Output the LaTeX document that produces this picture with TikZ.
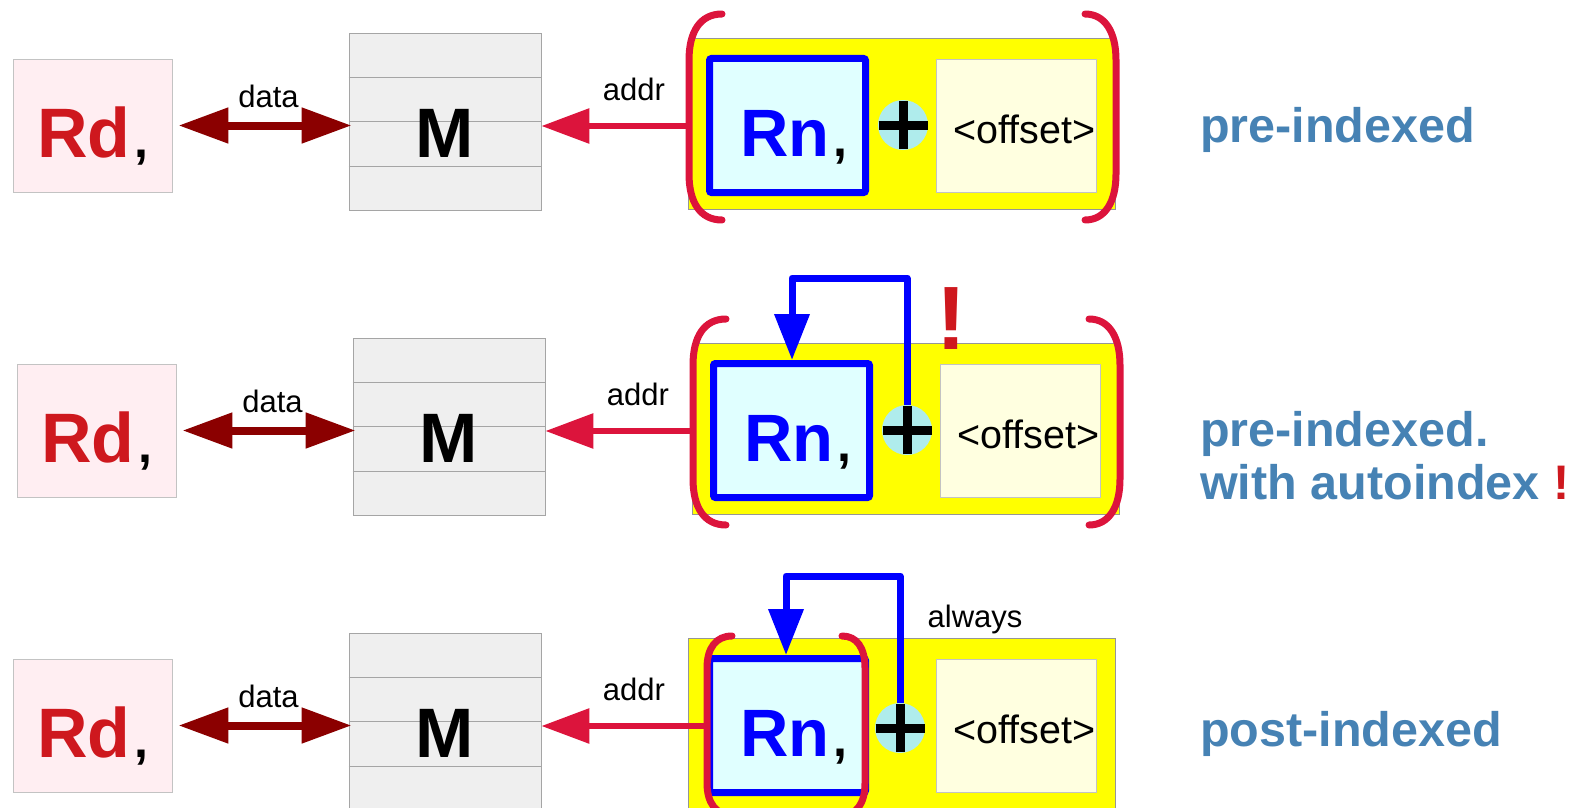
\documentclass[tikz,border=0pt]{standalone}
\usepackage{fontspec}
\setmainfont{Liberation Sans}
\usetikzlibrary{arrows.meta,calc}
\definecolor{rdred}{RGB}{206,24,30}
\definecolor{rdfill}{RGB}{255,238,242}
\definecolor{boxgray}{RGB}{195,195,195}
\definecolor{mfill}{RGB}{239,239,239}
\definecolor{mline}{RGB}{165,165,165}
\definecolor{darr}{RGB}{139,0,0}
\definecolor{crim}{RGB}{220,20,60}
\definecolor{ybox}{RGB}{255,255,0}
\definecolor{yborder}{RGB}{150,150,150}
\definecolor{rnfill}{RGB}{224,255,255}
\definecolor{rnblue}{RGB}{0,0,255}
\definecolor{plusfill}{RGB}{175,236,236}
\definecolor{offill}{RGB}{255,255,224}
\definecolor{lblblue}{RGB}{70,130,180}
\newcommand\smallcomma{\kern4pt{\fontsize{50}{52}\selectfont\textcolor{black}{,}}}
\newcommand\commonrow[3]{%
  \node[rdbox] (rd#1) at (92.5,125.5) {};
  \node[bigtxt, text=rdred] (rdt#1) at (93,157) {Rd\smallcomma};
  \node[mbox] (m#1) at (445,121.5) {};
  \foreach \k in {1,2,3}
    \draw[mgrid] ($(m#1.north west)!\k/4!(m#1.south west)$) -- ($(m#1.north east)!\k/4!(m#1.south east)$);
  \node[bigtxt] (mt#1) at (445,157) {M};
  \draw[dataarr] ([xshift=6pt]rd#1.east) -- ([xshift=3pt]rd#1.east -| m#1.west)
    node[pos=0.52, anchor=base, yshift=18pt, smalltxt] (dl#1) {data};
  \node[yellowbox] (yb#1) at (901.5,123.5) {};
  \node[rnbox] (rn#1) at (787.5,125.5) {};
  \node[rntxt] (rnt#1) at (794,156) {Rn\smallcomma};
  \node[plusc] (pl#1) at (#3) {};
  \draw[plusbar] ([xshift=-24.5pt]pl#1.center) -- ([xshift=24.5pt]pl#1.center);
  \draw[plusbar] ([yshift=24pt]pl#1.center) -- ([yshift=-24pt]pl#1.center);
  \node[offbox] (of#1) at (1016,125.5) {};
  \node[offtxt] (oft#1) at (1024.5,143) {<offset>};
  \coordinate (bl#1) at (#2,126);
  \draw[addrarr] (bl#1) -- (bl#1 -| m#1.east);
  \node[smalltxt] (al#1) at (634,100) {addr};
}
\begin{document}
\begin{tikzpicture}[x=1pt,y=-1pt,
  rdbox/.style={draw=boxgray, fill=rdfill, line width=0.8pt, minimum width=159pt, minimum height=133pt, inner sep=0pt},
  mbox/.style={draw=mline, fill=mfill, line width=0.8pt, minimum width=192pt, minimum height=177pt, inner sep=0pt},
  mgrid/.style={draw=mline, line width=0.8pt},
  bigtxt/.style={anchor=base, inner sep=0pt, font=\fontsize{70}{80}\selectfont\bfseries},
  rntxt/.style={anchor=base, inner sep=0pt, text=rnblue, font=\fontsize{67}{78}\selectfont\bfseries},
  smalltxt/.style={anchor=base, inner sep=0pt, font=\fontsize{31}{36}\selectfont},
  offtxt/.style={anchor=base, inner sep=0pt, font=\fontsize{39.5}{44}\selectfont},
  dataarr/.style={draw=darr, line width=8pt, {Triangle[length=50pt,width=34pt]}-{Triangle[length=50pt,width=34pt]}},
  addrarr/.style={draw=crim, line width=6pt, -{Triangle[length=48pt,width=34pt]}},
  yellowbox/.style={draw=yborder, fill=ybox, line width=0.8pt, minimum width=427pt, minimum height=171pt, inner sep=0pt},
  rnbox/.style={draw=rnblue, fill=rnfill, line width=7pt, rounded corners=2pt, minimum width=156pt, minimum height=134pt, inner sep=0pt},
  plusc/.style={circle, fill=plusfill, minimum size=50pt, inner sep=0pt},
  plusbar/.style={draw=black, line width=9pt},
  offbox/.style={draw=boxgray, fill=offill, line width=0.8pt, minimum width=160pt, minimum height=133pt, inner sep=0pt},
  brack/.style={draw=crim, line width=7pt, line cap=round},
  looparr/.style={draw=rnblue, line width=7pt, line join=round, -{Triangle[length=46pt,width=34pt]}},
  lbl/.style={anchor=base west, inner sep=0pt, text=lblblue, font=\fontsize{48.5}{56}\selectfont\bfseries},
  excl/.style={anchor=base, inner sep=0pt, text=rdred, font=\fontsize{90}{100}\selectfont\bfseries}
]
\useasboundingbox (0,0) rectangle (1579,808);
\clip (0,0) rectangle (1579,808);
\fill[white] (0,0) rectangle (1579,808);

% row 1: pre-indexed
\begin{scope}
  \commonrow{1}{689}{903,125}
  \draw[brack] (722,14) .. controls (700,14) and (689,32) .. (689,60) -- (689,174) .. controls (689,202) and (700,220) .. (722,220);
  \draw[brack] (1085,14) .. controls (1105,14) and (1116,32) .. (1116,60) -- (1116,174) .. controls (1116,202) and (1105,220) .. (1085,220);
\end{scope}

% row 2: pre-indexed with autoindex
\begin{scope}[shift={(4,305)}]
  \commonrow{2}{689}{903,125}
  \draw[brack] (722,14) .. controls (700,14) and (689,32) .. (689,60) -- (689,174) .. controls (689,202) and (700,220) .. (722,220);
  \draw[brack] (1085,14) .. controls (1105,14) and (1116,32) .. (1116,60) -- (1116,174) .. controls (1116,202) and (1105,220) .. (1085,220);
  \coordinate (lp2) at (788,-27);
  \draw[looparr] (pl2.north) |- (lp2) -- (lp2 |- rn2.north);
  \node[excl] (ex2) at (947,44) {!};
\end{scope}

% row 3: post-indexed
\begin{scope}[shift={(0,600)}]
  \commonrow{3}{707}{900,128}
  \draw[brack] (732,36) .. controls (716,36) and (707,48) .. (707,68) -- (707,183) .. controls (707,203) and (716,215) .. (732,215);
  \draw[brack] (842,36) .. controls (857,36) and (865,48) .. (865,68) -- (865,183) .. controls (865,203) and (857,215) .. (842,215);
  \coordinate (lp3) at (786,-24);
  \draw[looparr] (pl3.north) |- (lp3) -- (lp3 |- rn3.north);
  \node[smalltxt] (aw3) at (975,27) {always};
\end{scope}

\node[lbl] (l1) at (1200,142) {pre-indexed};
\node[lbl] (l2a) at (1200,446) {pre-indexed.};
\node[lbl] (l2b) at (1200,499) {with autoindex \textcolor{rdred}{!}};
\node[lbl] (l3) at (1200,746) {post-indexed};
\end{tikzpicture}
\end{document}
